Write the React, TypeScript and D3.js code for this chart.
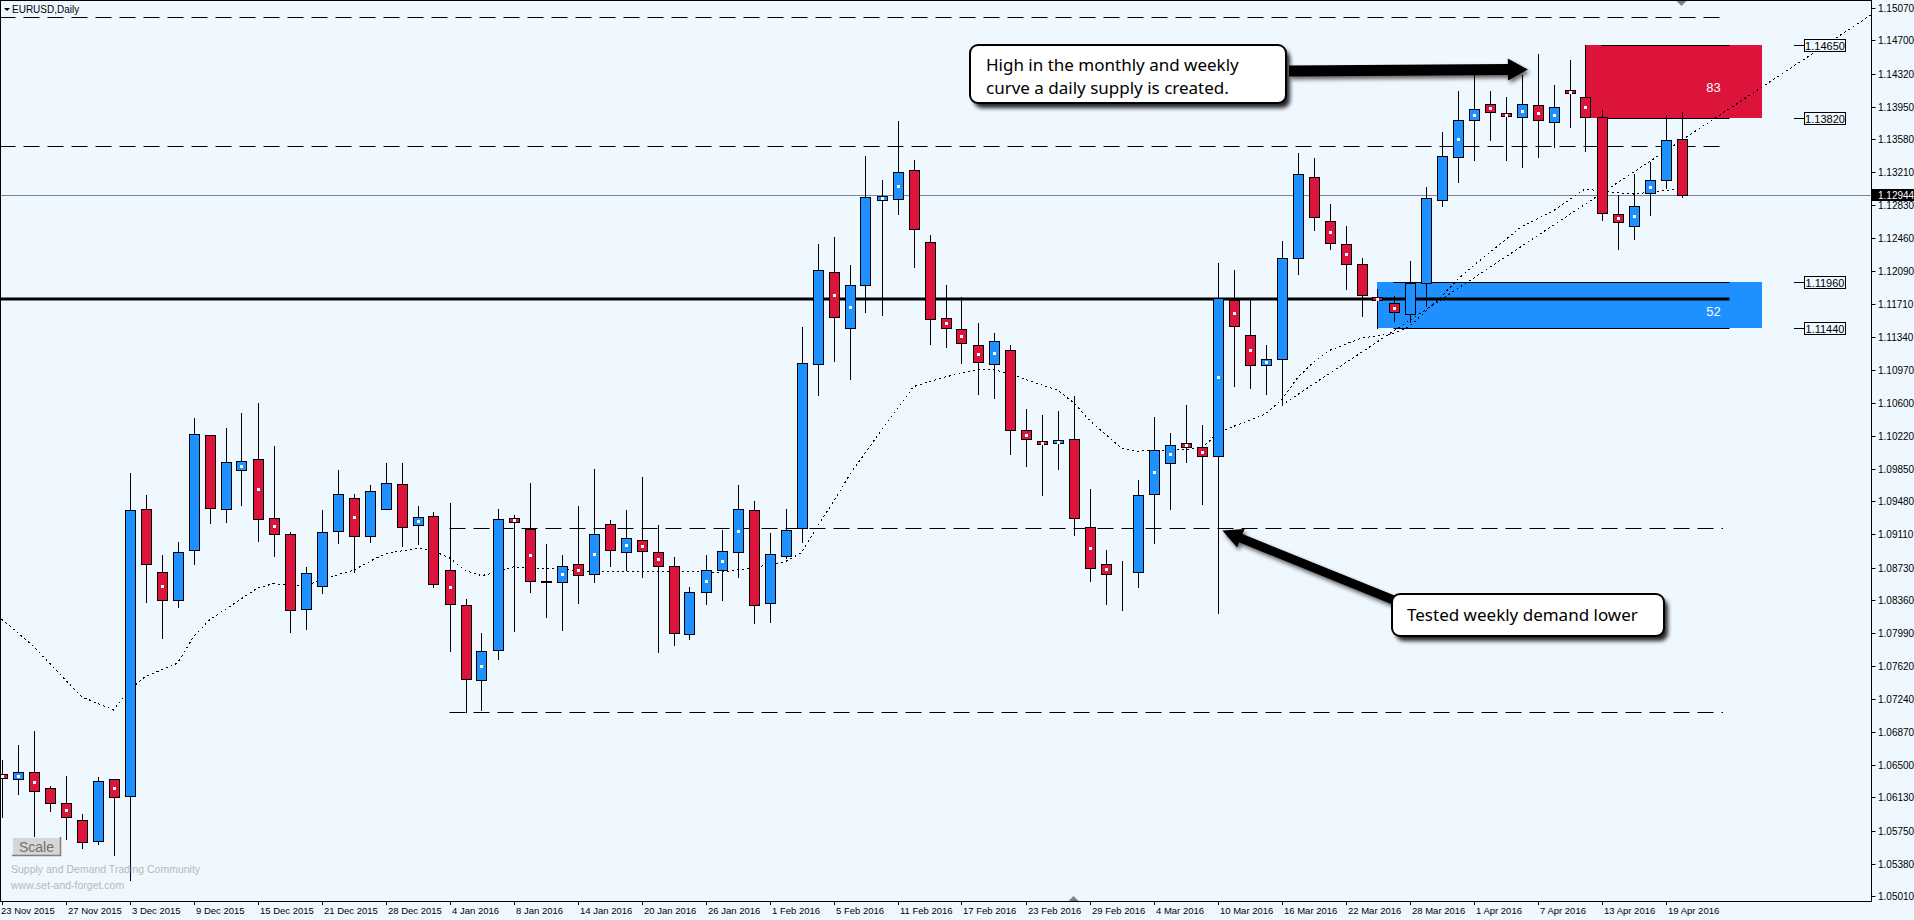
import React from "react";
import * as d3 from "d3";

const W = 1914;
const H = 920;
const PLOT_R = 1871;
const PLOT_B = 901;

// Daily OHLC, bar 0 = 23 Nov 2015 ... bar 105 = 20 Apr 2016
const opens = [
  1.06392, 1.06335, 1.06415, 1.06234, 1.06064, 1.05871, 1.05641, 1.06335, 1.0615, 1.09392,
  1.08685, 1.08362, 1.08928, 1.10229, 1.09392, 1.09833, 1.09958, 1.0929, 1.09109, 1.0826,
  1.0852, 1.09143, 1.09516, 1.09086, 1.09392, 1.09675, 1.09211, 1.09312, 1.08701, 1.08305,
  1.07456, 1.07796, 1.0929, 1.09172, 1.08577, 1.08565, 1.08769, 1.0866, 1.09222, 1.08905,
  1.09041, 1.08905, 1.0875, 1.0798, 1.0846, 1.087, 1.08905, 1.0938, 1.0833, 1.0886,
  1.09177, 1.11033, 1.12074, 1.1144, 1.11927, 1.12889, 1.129, 1.13229, 1.12414, 1.11554,
  1.11429, 1.11248, 1.11033, 1.11191, 1.10286, 1.10161, 1.10139, 1.10184, 1.09188, 1.08769,
  1.08663, 1.08679, 1.09561, 1.09912, 1.10145, 1.10093, 1.09991, 1.11761, 1.11361, 1.11022,
  1.11089, 1.12233, 1.1315, 1.12652, 1.12391, 1.12165, 1.1179, 1.1173, 1.11599, 1.11951,
  1.12889, 1.13376, 1.13798, 1.13983, 1.13881, 1.13829, 1.13971, 1.13772, 1.14138, 1.14062,
  1.13829, 1.12731, 1.12602, 1.12975, 1.13116, 1.1358,
];
const highs = [
  1.06554, 1.06724, 1.06882, 1.0626, 1.06373, 1.05943, 1.06365, 1.0634, 1.09799, 1.0955,
  1.08871, 1.09018, 1.10422, 1.10233, 1.10308, 1.10482, 1.10595, 1.10108, 1.09131, 1.08735,
  1.0938, 1.09836, 1.09561, 1.09663, 1.09912, 1.09912, 1.09429, 1.09358, 1.0946, 1.08373,
  1.07988, 1.09392, 1.09324, 1.09686, 1.08999, 1.08871, 1.09429, 1.09848, 1.0927, 1.09384,
  1.09757, 1.09214, 1.0885, 1.0851, 1.0887, 1.09157, 1.09667, 1.09486, 1.09123, 1.09395,
  1.11455, 1.12395, 1.12474, 1.12157, 1.13391, 1.13119, 1.13787, 1.13345, 1.12493, 1.1193,
  1.11795, 1.115, 1.11387, 1.11251, 1.10527, 1.10459, 1.10504, 1.10674, 1.09621, 1.08931,
  1.08806, 1.09723, 1.10434, 1.10252, 1.10569, 1.10342, 1.12176, 1.12097, 1.11761, 1.11251,
  1.12425, 1.13421, 1.13365, 1.12844, 1.12595, 1.12233, 1.1188, 1.11809, 1.12199, 1.13043,
  1.13662, 1.14126, 1.14383, 1.14126, 1.14055, 1.14308, 1.14545, 1.14191, 1.14474, 1.1465,
  1.13911, 1.12949, 1.13183, 1.13319, 1.13851, 1.13885,
];
const lows = [
  1.05912, 1.06169, 1.05694, 1.0598, 1.0566, 1.05561, 1.05603, 1.05479, 1.05196, 1.08346,
  1.07938, 1.08289, 1.08776, 1.0924, 1.09251, 1.09444, 1.09036, 1.08866, 1.08006, 1.08033,
  1.08448, 1.09014, 1.08685, 1.09025, 1.09392, 1.0898, 1.09002, 1.08516, 1.07791, 1.07094,
  1.0712, 1.07694, 1.08018, 1.08459, 1.08176, 1.08029, 1.08334, 1.0857, 1.0875, 1.087,
  1.0862, 1.0778, 1.0785, 1.0792, 1.0832, 1.0836, 1.0862, 1.081, 1.0812, 1.0884,
  1.09025, 1.10689, 1.11074, 1.10863, 1.11619, 1.11594, 1.12738, 1.12138, 1.11266, 1.11232,
  1.11051, 1.107, 1.10655, 1.10021, 1.09885, 1.09557, 1.09851, 1.09104, 1.08583, 1.08323,
  1.08248, 1.08516, 1.09014, 1.09392, 1.09924, 1.09448, 1.08218, 1.10791, 1.10768, 1.107,
  1.10569, 1.12052, 1.12556, 1.12341, 1.11882, 1.11583, 1.1144, 1.11526, 1.11515, 1.11689,
  1.12828, 1.131, 1.13349, 1.13575, 1.13349, 1.13263, 1.13376, 1.13493, 1.13722, 1.1345,
  1.12666, 1.12335, 1.12454, 1.12726, 1.13025, 1.1293,
];
const closes = [
  1.06347, 1.06415, 1.06206, 1.06071, 1.05912, 1.05629, 1.06313, 1.06132, 1.0938, 1.08769,
  1.08362, 1.08905, 1.1024, 1.09403, 1.09924, 1.09935, 1.09278, 1.09109, 1.08248, 1.08667,
  1.09131, 1.09561, 1.09086, 1.09595, 1.09686, 1.09188, 1.09301, 1.08543, 1.08316, 1.07467,
  1.07784, 1.09278, 1.09244, 1.08577, 1.08569, 1.08746, 1.08645, 1.09109, 1.08928, 1.09063,
  1.08916, 1.0875, 1.0799, 1.0846, 1.087, 1.08915, 1.09392, 1.0831, 1.08882, 1.09154,
  1.11044, 1.12097, 1.11565, 1.11927, 1.12923, 1.12934, 1.13206, 1.12561, 1.11542, 1.1144,
  1.11271, 1.11055, 1.11293, 1.10286, 1.10184, 1.10127, 1.10173, 1.0929, 1.08724, 1.08656,
  1.0866, 1.0955, 1.10057, 1.10123, 1.10097, 1.09991, 1.11787, 1.11463, 1.11022, 1.11089,
  1.12233, 1.13183, 1.12697, 1.12403, 1.12165, 1.11814, 1.11765, 1.11621, 1.11957, 1.1291,
  1.13385, 1.13795, 1.13919, 1.13885, 1.13843, 1.13983, 1.13798, 1.13942, 1.141, 1.13835,
  1.12742, 1.12647, 1.12821, 1.13122, 1.13568, 1.12944,
];

// Moving average (bar index, value)
const maBars = [
  0, 2, 4, 5, 7, 8, 9, 11, 12, 13, 15, 16, 17, 19, 20, 22, 23, 24, 26, 27, 28, 29, 30, 31, 32, 33,
  35, 36, 40, 45, 47, 49, 50, 51, 52, 53, 55, 57, 59, 61, 62, 63, 64, 66, 67, 68, 70, 71, 73, 75,
  76, 77, 78, 79, 80, 81, 82, 83, 85, 87, 88, 89, 90, 91, 92, 95, 97, 99, 100, 102, 103, 105,
];
const maValues = [
  1.0815, 1.0784, 1.0746, 1.0727, 1.0712, 1.0735, 1.075, 1.0765, 1.0795, 1.0814, 1.0838, 1.085,
  1.0855, 1.0852, 1.086, 1.087, 1.088, 1.0889, 1.0895, 1.0892, 1.0884, 1.087, 1.0864, 1.0868,
  1.0874, 1.0872, 1.0872, 1.0869, 1.0869, 1.0868, 1.0873, 1.088, 1.089, 1.092, 1.0948, 1.0978,
  1.1029, 1.1078, 1.1089, 1.1097, 1.1097, 1.1093, 1.1086, 1.1074, 1.106, 1.104, 1.1008, 1.1005,
  1.1006, 1.1008, 1.1025, 1.1033, 1.104, 1.1047, 1.1063, 1.1088, 1.1106, 1.1119, 1.1133, 1.1138,
  1.1146, 1.1163, 1.118, 1.1199, 1.1215, 1.1259, 1.1277, 1.1302, 1.1299, 1.1296, 1.1298, 1.1302,
];

// Trend line anchors (bar, price)
const trendBars = [80, 105];
const trendPrices = [1.10569, 1.13567];

const dateBars = [0, 4, 8, 12, 16, 20, 24, 28, 32, 36, 40, 44, 48, 52, 56, 60, 64, 68, 72, 76, 80, 84, 88, 92, 96, 100, 104];
const dateLabels = [
  "23 Nov 2015", "27 Nov 2015", "3 Dec 2015", "9 Dec 2015", "15 Dec 2015", "21 Dec 2015", "28 Dec 2015",
  "4 Jan 2016", "8 Jan 2016", "14 Jan 2016", "20 Jan 2016", "26 Jan 2016", "1 Feb 2016", "5 Feb 2016",
  "11 Feb 2016", "17 Feb 2016", "23 Feb 2016", "29 Feb 2016", "4 Mar 2016", "10 Mar 2016", "16 Mar 2016",
  "22 Mar 2016", "28 Mar 2016", "1 Apr 2016", "7 Apr 2016", "13 Apr 2016", "19 Apr 2016",
];
const priceLabels = [
  "1.15070", "1.14700", "1.14320", "1.13950", "1.13580", "1.13210", "1.12830", "1.12460", "1.12090",
  "1.11710", "1.11340", "1.10970", "1.10600", "1.10220", "1.09850", "1.09480", "1.09110", "1.08730",
  "1.08360", "1.07990", "1.07620", "1.07240", "1.06870", "1.06500", "1.06130", "1.05750", "1.05380",
  "1.05010",
];

// Horizontal levels
const dashedLevels = [1.1496, 1.135, 1.09177, 1.07094];
const dashedStartBars = [0, 0, 28, 28];
const solidLevel = 1.11772;
const currentPrice = 1.12944;

// Zones
const zoneTops = [1.1465, 1.1196];
const zoneBottoms = [1.1382, 1.1144];
const zoneStartBars = [99, 86];
const zoneLineStartBars = [100, 87];
const zoneLabels = ["83", "52"];
const zoneColors = ["#DC143C", "#1E90FF"];
const zoneEndBar = 110;
const zoneLineEndBar = 108;

const BULL = "#1E90FF";
const BEAR = "#DC143C";
const BG = "#F0F8FF";

const x = d3.scaleLinear().domain([0, 105]).range([1.5, 1681.5]);
const y = d3.scaleLinear().domain([1.0501, 1.1465]).range([896.4, 44.7]);

function arrowPath(x1: number, y1: number, x2: number, y2: number, sw: number, hw: number, hl: number) {
  const dx = x2 - x1, dy = y2 - y1;
  const len = Math.hypot(dx, dy);
  const ux = dx / len, uy = dy / len;
  const nx = -uy, ny = ux;
  const neckX = x2 - ux * hl, neckY = y2 - uy * hl;
  const pts = [
    [x1 + nx * sw / 2, y1 + ny * sw / 2],
    [neckX + nx * sw / 2, neckY + ny * sw / 2],
    [neckX + nx * hw / 2, neckY + ny * hw / 2],
    [x2, y2],
    [neckX - nx * hw / 2, neckY - ny * hw / 2],
    [neckX - nx * sw / 2, neckY - ny * sw / 2],
    [x1 - nx * sw / 2, y1 - ny * sw / 2],
  ];
  return "M" + pts.map((p) => p[0].toFixed(1) + "," + p[1].toFixed(1)).join("L") + "Z";
}

const crisp = (v: number) => Math.round(v) + 0.5;

export default function App() {
  const candles = opens.map((o, i) => {
    const c = closes[i];
    const hi = highs[i];
    const lo = lows[i];
    const cx = Math.round(x(i));
    const top = Math.round(y(Math.max(o, c)));
    const bot = Math.round(y(Math.min(o, c)));
    const bull = c > o;
    const dot = Math.abs(c - o) <= 0.5 * (hi - lo);
    return (
      <g key={i}>
        <line x1={cx + 0.5} x2={cx + 0.5} y1={Math.round(y(hi))} y2={Math.round(y(lo)) + 1} stroke="#000" strokeWidth={1} />
        <rect
          x={cx - 4.5}
          y={top + 0.5}
          width={10}
          height={Math.max(bot - top, 0)}
          fill={bull ? BULL : BEAR}
          stroke="#000"
          strokeWidth={1}
        />
        {dot && bot - top >= 3 ? (
          <rect x={cx - 1} y={Math.round((top + bot) / 2) - 1} width={3} height={3} fill="#fff" />
        ) : null}
      </g>
    );
  });

  const maLine = d3
    .line<number>()
    .x((_, i) => x(maBars[i]))
    .y((v) => y(v));

  const tSlope = (trendPrices[1] - trendPrices[0]) / (trendBars[1] - trendBars[0]);
  const trendEndBar = x.invert(PLOT_R);
  const trendEndPrice = trendPrices[0] + tSlope * (trendEndBar - trendBars[0]);

  const a1tail = [1289, 71];
  const a1tip = [x(95.4), y(1.1437)];
  const a2tail = [1396, 601];
  const a2tip = [x(76.3), y(1.0915)];

  const axisFont = "'Liberation Sans', Arial, sans-serif";
  const noteFont = "'Noto Sans', 'Open Sans', sans-serif";

  return (
    <svg
      width={W}
      height={H}
      style={{ position: "fixed", left: 0, top: 0, display: "block", background: BG }}
    >
      <style>{`body{margin:0;background:${BG};}`}</style>
      <defs>
        <clipPath id="plot">
          <rect x={0} y={0} width={PLOT_R} height={PLOT_B} />
        </clipPath>
        <filter id="blur" x="-20%" y="-50%" width="140%" height="200%">
          <feGaussianBlur stdDeviation="2.2" />
        </filter>
      </defs>
      <rect x={0} y={0} width={W} height={H} fill={BG} />

      <g clipPath="url(#plot)">
        {zoneTops.map((t, k) => (
          <rect
            key={"z" + k}
            x={Math.round(x(zoneStartBars[k]))}
            y={Math.round(y(t))}
            width={Math.round(x(zoneEndBar)) - Math.round(x(zoneStartBars[k]))}
            height={Math.round(y(zoneBottoms[k])) - Math.round(y(t))}
            fill={zoneColors[k]}
          />
        ))}
        {zoneTops.map((t, k) => (
          <g key={"zl" + k}>
            {[t, zoneBottoms[k]].map((p, j) => (
              <line
                key={j}
                x1={x(zoneLineStartBars[k])}
                x2={x(zoneLineEndBar)}
                y1={crisp(y(p))}
                y2={crisp(y(p))}
                stroke="#000"
                strokeWidth={1}
              />
            ))}
            <text
              x={x(107)}
              y={(y(t) + y(zoneBottoms[k])) / 2 + 11}
              fill="#fff"
              fontSize={13}
              fontFamily={axisFont}
              textAnchor="middle"
            >
              {zoneLabels[k]}
            </text>
          </g>
        ))}

        {dashedLevels.map((p, k) => (
          <line
            key={"d" + k}
            x1={x(dashedStartBars[k]) - (dashedStartBars[k] === 0 ? 2 : 0)}
            x2={1723}
            y1={crisp(y(p))}
            y2={crisp(y(p))}
            stroke="#000"
            strokeWidth={1}
            strokeDasharray="16,8"
          />
        ))}

        <line x1={0} x2={PLOT_R} y1={crisp(y(currentPrice))} y2={crisp(y(currentPrice))} stroke="#778899" strokeWidth={1} />

        <line x1={0} x2={x(zoneLineEndBar)} y1={y(solidLevel)} y2={y(solidLevel)} stroke="#000" strokeWidth={3} />

        <path
          d={maLine(maValues) || ""}
          fill="none"
          stroke="#000"
          strokeWidth={1}
          strokeDasharray="2,3"
          shapeRendering="crispEdges"
        />

        <line
          x1={x(trendBars[0])}
          y1={y(trendPrices[0])}
          x2={x(trendEndBar)}
          y2={y(trendEndPrice)}
          stroke="#000"
          strokeWidth={1}
          strokeDasharray="2,3"
          shapeRendering="crispEdges"
        />

        {candles}
      </g>

      <rect x={0.5} y={0.5} width={PLOT_R} height={PLOT_B} fill="none" stroke="#000" strokeWidth={1} />

      <path d="M4,8 L10,8 L7,11 Z" fill="#000" />
      <text x={12} y={13} fontSize={10} fontFamily={axisFont} fill="#000">
        EURUSD,Daily
      </text>

      <path d={`M${x(105) - 5},1 L${x(105) + 5},1 L${x(105)},6 Z`} fill="#808080" />
      <path d={`M${x(67) - 5},${PLOT_B} L${x(67) + 5},${PLOT_B} L${x(67)},${PLOT_B - 5} Z`} fill="#808080" />

      {priceLabels.map((l) => {
        const yy = crisp(y(parseFloat(l)));
        return (
          <g key={l}>
            <line x1={PLOT_R + 0.5} x2={PLOT_R + 4.5} y1={yy} y2={yy} stroke="#000" />
            <text x={1878} y={yy + 3.5} fontSize={10} fontFamily={axisFont} fill="#000">
              {l}
            </text>
          </g>
        );
      })}
      <rect x={PLOT_R + 1} y={Math.round(y(currentPrice)) - 6} width={W - PLOT_R - 1} height={12} fill="#000" />
      <text x={1878} y={Math.round(y(currentPrice)) + 4} fontSize={10} fontFamily={axisFont} fill="#fff">
        {currentPrice.toFixed(5)}
      </text>

      {[zoneTops[0], zoneBottoms[0], zoneTops[1], zoneBottoms[1]].map((p, k) => {
        const yy = crisp(y(p));
        return (
          <g key={"tag" + k}>
            <line x1={1794} x2={1804} y1={yy} y2={yy} stroke="#000" />
            <rect x={1804.5} y={yy - 6} width={41} height={12} fill={BG} stroke="#000" />
            <text x={1825} y={yy + 4} fontSize={11} fontFamily={axisFont} fill="#000" textAnchor="middle">
              {p.toFixed(5)}
            </text>
          </g>
        );
      })}

      {dateBars.map((b, k) => {
        const xx = Math.round(x(b));
        return (
          <g key={"t" + k}>
            <line x1={xx + 0.5} x2={xx + 0.5} y1={PLOT_B} y2={PLOT_B + 4} stroke="#000" />
            <text x={k === 0 ? 1 : xx + 2} y={914} fontSize={9.5} fontFamily={axisFont} fill="#000">
              {dateLabels[k]}
            </text>
          </g>
        );
      })}

      <rect x={974} y={50} width={316} height={58} rx={8} fill="#000" opacity={0.85} filter="url(#blur)" />
      <rect x={970} y={45} width={316} height={58} rx={8} fill="#fff" stroke="#000" strokeWidth={2} />
      <text x={986} y={71} fontSize={17} fontFamily={noteFont} fill="#000">
        High in the monthly and weekly
      </text>
      <text x={986} y={94} fontSize={17} fontFamily={noteFont} fill="#000">
        curve a daily supply is created.
      </text>
      <path d={arrowPath(a1tail[0] + 2, a1tail[1] + 3, a1tip[0] + 2, a1tip[1] + 3, 11, 22, 20)} fill="#000" opacity={0.6} filter="url(#blur)" />
      <path d={arrowPath(a1tail[0], a1tail[1], a1tip[0], a1tip[1], 11, 22, 20)} fill="#000" />

      <path d={arrowPath(a2tail[0] + 2, a2tail[1] + 3, a2tip[0] + 2, a2tip[1] + 3, 9, 20, 20)} fill="#000" opacity={0.6} filter="url(#blur)" />
      <path d={arrowPath(a2tail[0], a2tail[1], a2tip[0], a2tip[1], 9, 20, 20)} fill="#000" />
      <rect x={1396} y={599} width={272} height={42} rx={8} fill="#000" opacity={0.85} filter="url(#blur)" />
      <rect x={1392} y={594} width={272} height={42} rx={8} fill="#fff" stroke="#000" strokeWidth={2} />
      <text x={1407} y={621} fontSize={17} fontFamily={noteFont} fill="#000">
        Tested weekly demand lower
      </text>

      <rect x={12} y={837} width={49} height={19} fill="#d6d6d6" />
      <path d="M12.5,856 L12.5,837.5 L61,837.5" fill="none" stroke="#f4f4f4" />
      <path d="M12,855.5 L60.5,855.5 L60.5,837" fill="none" stroke="#808080" strokeWidth={1.5} />
      <text x={36.5} y={851.5} fontSize={14} fontFamily={axisFont} fill="#707070" textAnchor="middle">
        Scale
      </text>

      <text x={11} y={873} fontSize={10.5} fontFamily={axisFont} fill="#b8b8b8">
        Supply and Demand Trading Community
      </text>
      <text x={11} y={889} fontSize={10.5} fontFamily={axisFont} fill="#b8b8b8">
        www.set-and-forget.com
      </text>
    </svg>
  );
}
